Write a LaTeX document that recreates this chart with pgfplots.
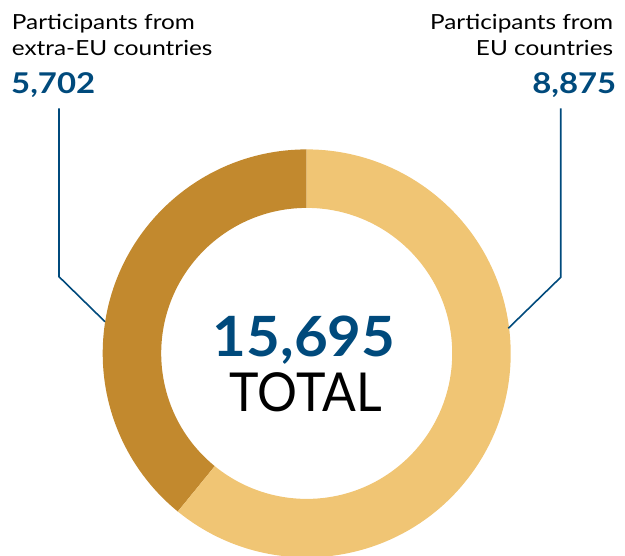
\documentclass[border=0pt]{standalone}
\usepackage{pgfplots}
\pgfplotsset{compat=1.18}
\usepackage{fontspec}
\setmainfont{Lato}
\newfontfamily\labfont[FakeStretch=1.17]{Lato}
\newfontfamily\numfont[FakeStretch=1.15]{Lato}
\newfontfamily\bignumfont[FakeStretch=1.05]{Lato}
\newfontfamily\totfont[FakeStretch=0.93]{Lato}
\definecolor{gdark}{HTML}{C2892E}
\definecolor{glight}{HTML}{F0C574}
\definecolor{nblue}{HTML}{004A7C}
\def\valExtra{5702}
\def\valEU{8875}
\def\valTotal{15,695}
\begin{document}
\begin{tikzpicture}
\pgfmathsetmacro{\tot}{\valExtra+\valEU}
\pgfmathsetmacro{\aDark}{90+\valExtra/\tot*360}
\def\cx{306.7}
\def\cy{202.6}
\begin{axis}[scale only axis, width=625bp, height=556bp,
  xmin=0, xmax=625, ymin=0, ymax=556, hide axis, clip=false]
% dark slice (extra-EU)
\fill[gdark] ([shift={(90:204bp)}]axis cs:\cx,\cy) arc[start angle=90, end angle=\aDark, radius=204bp]
  -- ([shift={(\aDark:145.5bp)}]axis cs:\cx,\cy) arc[start angle=\aDark, end angle=90, radius=145.5bp] -- cycle;
% light slice (EU)
\fill[glight] ([shift={(\aDark:204bp)}]axis cs:\cx,\cy) arc[start angle=\aDark, end angle=450, radius=204bp]
  -- ([shift={(450:145.5bp)}]axis cs:\cx,\cy) arc[start angle=450, end angle=\aDark, radius=145.5bp] -- cycle;
% leader lines
\draw[nblue, line width=1.6bp] (axis cs:59,447.7) -- (axis cs:59,279.3) -- (axis cs:105,234.3);
\draw[nblue, line width=1.6bp] (axis cs:560.7,447.7) -- (axis cs:560.7,278.7) -- (axis cs:508.3,227.7);
% labels
\node[anchor=base west, inner sep=0pt, font=\labfont\fontsize{20.8bp}{25bp}\selectfont] at (axis cs:11.7,526) {Participants from};
\node[anchor=base west, inner sep=0pt, font=\labfont\fontsize{20.8bp}{25bp}\selectfont] at (axis cs:11.7,500.3) {extra-EU countries};
\node[anchor=base west, inner sep=0pt, text=nblue, font=\numfont\fontsize{28.6bp}{32bp}\selectfont\bfseries] at (axis cs:11,462.7) {5,702};
\node[anchor=base east, inner sep=0pt, font=\labfont\fontsize{20.8bp}{25bp}\selectfont] at (axis cs:613.3,526) {Participants from};
\node[anchor=base east, inner sep=0pt, font=\labfont\fontsize{20.8bp}{25bp}\selectfont] at (axis cs:613.3,500.3) {EU countries};
\node[anchor=base east, inner sep=0pt, text=nblue, font=\numfont\fontsize{28.6bp}{32bp}\selectfont\bfseries] at (axis cs:616.5,462.7) {8,875};
% centre
\node[anchor=base, inner sep=0pt, text=nblue, font=\bignumfont\fontsize{55.5bp}{60bp}\selectfont\bfseries] at (axis cs:304.2,199.3) {\valTotal};
\node[anchor=base, inner sep=0pt, font=\totfont\fontsize{53.7bp}{58bp}\selectfont] at (axis cs:305.8,144.3) {TOTAL};
\end{axis}
\pgfresetboundingbox
\path (0,0) rectangle (625bp,556bp);
\end{tikzpicture}
\end{document}
